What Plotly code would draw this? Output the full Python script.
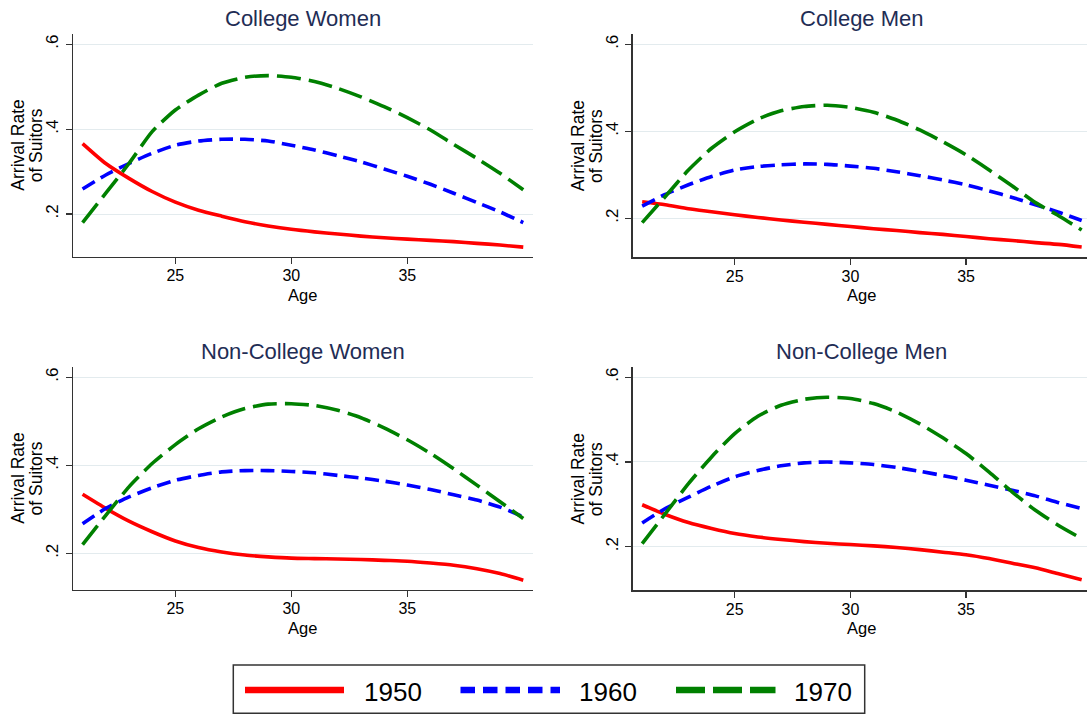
import plotly.graph_objects as go

# ---------------- data ----------------
ages = list(range(21, 41))
years = ["1950", "1960", "1970"]
panel_titles = ["College Women", "College Men", "Non-College Women", "Non-College Men"]
y_ticks = [0.2, 0.4, 0.6]
y_tick_labels = [".2", ".4", ".6"]
x_ticks = [25, 30, 35]
x_label = "Age"
y_label_lines = ["Arrival Rate", "of Suitors"]

college_women_1950 = [0.366, 0.319, 0.284, 0.253, 0.228, 0.209, 0.195, 0.182, 0.172, 0.164,
                      0.158, 0.153, 0.148, 0.144, 0.141, 0.138, 0.135, 0.131, 0.127, 0.122]
college_women_1960 = [0.259, 0.292, 0.319, 0.343, 0.362, 0.372, 0.376, 0.376, 0.372, 0.362,
                      0.351, 0.337, 0.323, 0.306, 0.289, 0.270, 0.249, 0.227, 0.205, 0.180]
college_women_1970 = [0.180, 0.249, 0.319, 0.394, 0.445, 0.480, 0.508, 0.522, 0.526, 0.522,
                      0.512, 0.496, 0.476, 0.453, 0.427, 0.398, 0.364, 0.331, 0.296, 0.257]

college_men_1950 = [0.238, 0.231, 0.222, 0.215, 0.208, 0.202, 0.196, 0.191, 0.186, 0.181,
                    0.176, 0.172, 0.167, 0.163, 0.158, 0.153, 0.149, 0.144, 0.140, 0.134]
college_men_1960 = [0.228, 0.255, 0.277, 0.296, 0.311, 0.319, 0.323, 0.325, 0.324, 0.320,
                    0.315, 0.307, 0.298, 0.288, 0.277, 0.263, 0.248, 0.231, 0.214, 0.195]
college_men_1970 = [0.190, 0.250, 0.311, 0.361, 0.399, 0.428, 0.447, 0.457, 0.460, 0.455,
                    0.444, 0.426, 0.403, 0.376, 0.346, 0.311, 0.274, 0.236, 0.206, 0.173]

noncollege_women_1950 = [0.334, 0.302, 0.273, 0.249, 0.228, 0.213, 0.203, 0.196, 0.192, 0.189,
                         0.188, 0.187, 0.186, 0.184, 0.182, 0.178, 0.173, 0.165, 0.154, 0.139]
noncollege_women_1960 = [0.267, 0.302, 0.328, 0.349, 0.366, 0.377, 0.385, 0.388, 0.388, 0.386,
                         0.383, 0.377, 0.371, 0.364, 0.355, 0.345, 0.333, 0.321, 0.305, 0.283]
noncollege_women_1970 = [0.220, 0.286, 0.351, 0.404, 0.447, 0.483, 0.510, 0.529, 0.539, 0.540,
                         0.536, 0.525, 0.508, 0.485, 0.458, 0.427, 0.392, 0.355, 0.317, 0.279]

noncollege_men_1950 = [0.299, 0.276, 0.257, 0.243, 0.231, 0.223, 0.217, 0.212, 0.208, 0.205,
                       0.202, 0.198, 0.193, 0.187, 0.181, 0.172, 0.161, 0.150, 0.136, 0.122]
noncollege_men_1960 = [0.256, 0.290, 0.317, 0.343, 0.365, 0.380, 0.391, 0.398, 0.400, 0.398,
                       0.394, 0.387, 0.378, 0.368, 0.357, 0.345, 0.333, 0.320, 0.304, 0.290]
noncollege_men_1970 = [0.207, 0.278, 0.349, 0.412, 0.467, 0.508, 0.534, 0.548, 0.553, 0.550,
                       0.538, 0.518, 0.490, 0.457, 0.420, 0.376, 0.329, 0.286, 0.250, 0.219]

panel_series = [
    [college_women_1950, college_women_1960, college_women_1970],
    [college_men_1950, college_men_1960, college_men_1970],
    [noncollege_women_1950, noncollege_women_1960, noncollege_women_1970],
    [noncollege_men_1950, noncollege_men_1960, noncollege_men_1970],
]

# ---------------- styles / layout geometry ----------------
W, H = 1087, 715
FONT = "Liberation Sans, Arial, Helvetica, sans-serif"
TITLE_COLOR = "#1f2d55"
AXIS_COLOR = "#333333"
GRID_COLOR = "#e3ebee"
series_colors = ["#ff0000", "#0000ff", "#008000"]
series_dash = ["solid", "14px,7px", "24px,8px"]
line_width = 3.6


def px(x):
    """page pixel x -> paper fraction"""
    return x / W


def py(y):
    """page pixel y -> paper fraction"""
    return 1 - y / H


# pixel geometry (page coords) of each panel
panels = [
    dict(l=73.3, r=533.0, t=34.0, b=256.7, xr=[20.6, 40.42], yr=[0.0995, 0.624], tx=302.5, ty=18.3),
    dict(l=632.7, r=1087.0, t=34.0, b=257.3, xr=[20.59, 40.23], yr=[0.1103, 0.6237], tx=861.6, ty=18.3),
    dict(l=73.3, r=533.0, t=367.3, b=589.7, xr=[20.6, 40.42], yr=[0.1173, 0.6227], tx=302.5, ty=351.3),
    dict(l=632.7, r=1087.0, t=367.3, b=590.3, xr=[20.59, 40.23], yr=[0.097, 0.6236], tx=861.6, ty=351.3),
]

fig = go.Figure()
annotations = []
layout_axes = {}

for i, (p, series) in enumerate(zip(panels, panel_series)):
    n = "" if i == 0 else str(i + 1)
    for k, (yr_name, vals) in enumerate(zip(years, series)):
        fig.add_trace(go.Scatter(
            x=ages, y=vals, mode="lines", name=yr_name, showlegend=False,
            line=dict(color=series_colors[k], width=line_width, dash=series_dash[k],
                      shape="spline", smoothing=0.6),
            xaxis="x" + n, yaxis="y" + n, hoverinfo="skip",
        ))
    layout_axes["xaxis" + n] = dict(
        domain=[px(p["l"]), min(1.0, px(p["r"]))], range=p["xr"], anchor="y" + n,
        tickvals=x_ticks, ticks="outside", ticklen=6, tickwidth=1.2, tickcolor=AXIS_COLOR,
        ticklabelstandoff=-2,
        showline=True, linecolor=AXIS_COLOR, linewidth=1.3, showgrid=False, zeroline=False,
        tickfont=dict(family=FONT, size=16, color="black"), fixedrange=True,
    )
    layout_axes["yaxis" + n] = dict(
        domain=[py(p["b"]), py(p["t"])], range=p["yr"], anchor="x" + n,
        tickvals=y_ticks, ticktext=y_tick_labels, tickangle=-90,
        ticks="outside", ticklen=6, tickwidth=1.2, tickcolor=AXIS_COLOR,
        ticklabelstandoff=1,
        showline=True, linecolor=AXIS_COLOR, linewidth=1.3,
        showgrid=True, gridcolor=GRID_COLOR, gridwidth=1, zeroline=False,
        tickfont=dict(family=FONT, size=17, color="black"), fixedrange=True,
    )
    # panel title
    annotations.append(dict(
        text=panel_titles[i], x=px(p["tx"]), y=py(p["ty"]), xref="paper", yref="paper",
        xanchor="center", yanchor="middle", showarrow=False,
        font=dict(family=FONT, size=22, color=TITLE_COLOR),
    ))
    # x axis title
    annotations.append(dict(
        text=x_label, x=px(p["tx"]), y=py(p["b"] + 38.0), xref="paper", yref="paper",
        xanchor="center", yanchor="middle", showarrow=False,
        font=dict(family=FONT, size=16.5, color="black"),
    ))
    # y axis title (two lines)
    yc = (p["t"] + p["b"]) / 2
    for j, line_txt in enumerate(y_label_lines):
        annotations.append(dict(
            text=line_txt, textangle=-90, x=px(p["l"] - 55.0 + 17.7 * j), y=py(yc),
            xref="paper", yref="paper", xanchor="center", yanchor="middle", showarrow=False,
            font=dict(family=FONT, size=17.5, color="black"),
        ))

# ---------------- custom legend ----------------
shapes = [dict(type="rect", xref="paper", yref="paper",
               x0=px(233.3), x1=px(864.7), y0=py(713.3), y1=py(665.0),
               line=dict(color=AXIS_COLOR, width=1.5), fillcolor="white", layer="below")]
legend_sample_x = [(245.0, 344.0), (460.5, 560.0), (676.0, 775.5)]
legend_text_x = [362.0, 577.0, 792.0]
legend_dash = ["solid", "14.5px,8px", "29px,8px"]
for k in range(3):
    x0, x1 = legend_sample_x[k]
    shapes.append(dict(type="line", xref="paper", yref="paper",
                       x0=px(x0), x1=px(x1), y0=py(690.0), y1=py(690.0),
                       line=dict(color=series_colors[k], width=6.5, dash=legend_dash[k])))
    annotations.append(dict(
        text=years[k], x=px(legend_text_x[k]), y=py(692.0), xref="paper", yref="paper",
        xanchor="left", yanchor="middle", showarrow=False,
        font=dict(family=FONT, size=26, color="black"),
    ))

fig.update_layout(
    width=W, height=H, margin=dict(l=0, r=0, t=0, b=0),
    paper_bgcolor="white", plot_bgcolor="white",
    showlegend=False, annotations=annotations, shapes=shapes,
    **layout_axes,
)

# remove the default page margin so the figure fills the window exactly
fig.write_html(
    "out.html",
    config={"displayModeBar": False, "staticPlot": True},
    post_script="document.body.style.margin='0';document.body.style.overflow='hidden';",
)
